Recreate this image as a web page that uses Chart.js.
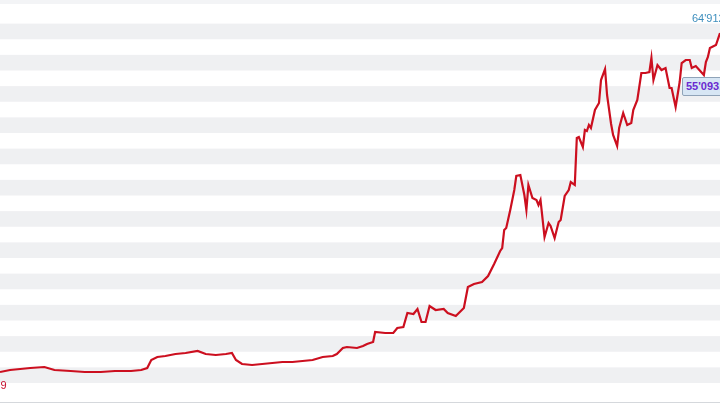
<!DOCTYPE html>
<html>
<head>
<meta charset="utf-8">
<script src="https://cdn.jsdelivr.net/npm/chart.js@4/dist/chart.umd.min.js"></script>
<style>
  html, body { margin: 0; padding: 0; background: #fff; overflow: hidden; }
  #wrap { position: relative; width: 720px; height: 405px; }
  #tabs { position: absolute; top: 0; left: 0; width: 720px; height: 4px; background: #f3f4f6; }
  .lbl { position: absolute; font-family: Arial, "Liberation Sans", sans-serif; font-size: 11px; }
</style>
</head>
<body>
<div id="wrap">
  <div id="tabs"></div>
  <canvas id="chart" width="720" height="405"></canvas>
  <div class="lbl" style="left:692px; top:12px; color:#3d8ebd; white-space:nowrap;">64'912.</div>
  <div class="lbl" style="left:-20px; top:379px; color:#c8102e;">9'269</div>
  <div class="lbl" style="left:682px; top:77px; width:50px; height:17px; line-height:17px; padding-left:3px; background:#d7e6f4; border:1px solid #8fa3b8; border-radius:2px; color:#6a2bd0; font-weight:bold; white-space:nowrap;">55'093.15</div>
</div>
<script>
// day index and closing price (CHF)
const days = [0,5,10,15,22,27,35,42,50,57,65,70,73,75,78,82,87,92,98,102,107,112,115,117,120,125,130,135,140,145,150,155,160,165,167,170,172,177,180,182,185,186,191,195,197,200,202,205,207,209,211,213,216,220,222,226,229,230,232,235,239,242,245,248,249,250,251,253,255,256,258,260,261,262,264,266,267,268,270,272,273,275,277,278,280,282,283,285,286,287,289,290,291,292,293,295,297,298,300,301,303,304,306,307,309,311,313,314,316,318,320,322,323,324,326,328,330,332,333,335,337,338,340,342,343,345,349,350,351,352,355,357,358,359,360];
const prices = [10660,10980,11140,11300,11460,10980,10820,10660,10660,10820,10820,10980,11300,12580,13060,13220,13540,13700,14020,13540,13380,13540,13700,12580,11940,11780,11940,12100,12260,12260,12420,12580,13060,13220,13540,14500,14660,14500,14820,15140,15460,17060,16900,16900,17700,17860,20100,19940,20740,18660,18660,21220,20580,20740,20100,19620,20580,20900,24260,24740,25060,26020,27940,30020,30500,33380,33700,36580,39780,42020,42180,38980,36580,40580,38500,38180,37380,38180,32260,34500,34020,32100,34660,34980,38820,39780,41060,40580,48100,48260,46660,49380,49220,50180,49700,52580,53700,57380,59140,54980,50340,48580,46820,49700,52100,50180,50500,52580,54180,58500,58500,58660,60900,57380,59780,58980,59300,56100,56100,53060,57060,60100,60580,60580,59300,59620,58180,60260,61060,62500,62980,64900];

const valueMin = 8900;
const valueMax = 68900;
const bandStep = 2500;

const stripes = {
  id: 'stripes',
  beforeDraw(chart) {
    const { ctx, chartArea, scales } = chart;
    const y = scales.y;
    ctx.save();
    ctx.fillStyle = '#eff0f2';
    let i = 0;
    for (let v = valueMin; v < valueMax; v += bandStep, i++) {
      if (i % 2) continue;
      const top = y.getPixelForValue(v + bandStep);
      const bottom = y.getPixelForValue(v);
      ctx.fillRect(0, top, 720, bottom - top);
    }
    // bottom rule
    ctx.fillStyle = '#d5d8dc';
    ctx.fillRect(0, 402, 720, 1);
    ctx.restore();
  }
};

new Chart(document.getElementById('chart'), {
  type: 'line',
  data: {
    datasets: [{
      data: days.map((d, i) => ({ x: d, y: prices[i] })),
      borderColor: '#cc0f1f',
      borderWidth: 2.2,
      pointRadius: 0,
      tension: 0,
      fill: false
    }]
  },
  options: {
    responsive: false,
    animation: false,
    layout: { padding: { top: 8, bottom: 22, left: 0, right: 0 } },
    plugins: { legend: { display: false }, tooltip: { enabled: false } },
    scales: {
      x: { type: 'linear', min: 0, max: 357, display: false },
      y: { min: valueMin, max: valueMax, display: false }
    }
  },
  plugins: [stripes]
});
</script>
</body>
</html>
